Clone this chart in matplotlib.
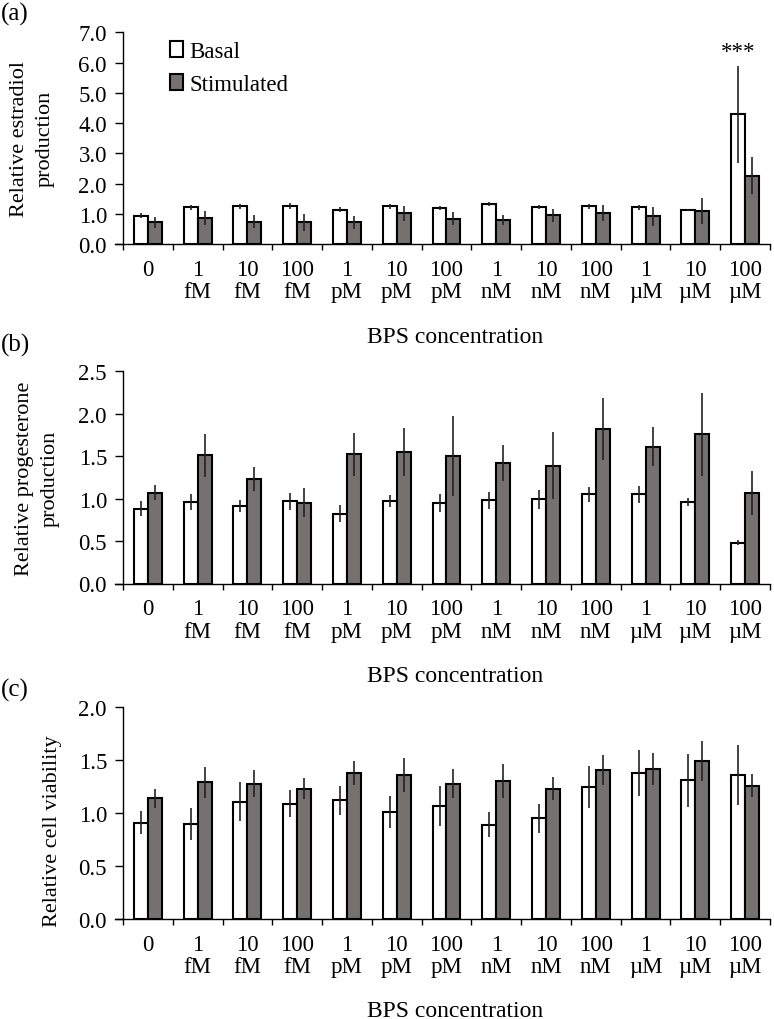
import numpy as np
import matplotlib
matplotlib.use("Agg")
import matplotlib.pyplot as plt
from matplotlib.patches import Patch

plt.rcParams['font.family'] = ['Liberation Serif', 'DejaVu Serif']
plt.rcParams['font.size'] = 16.5

# x categories
doses = ["0", "1", "10", "100", "1", "10", "100", "1", "10", "100", "1", "10", "100"]
units = ["", "fM", "fM", "fM", "pM", "pM", "pM", "nM", "nM", "nM", "\u00b5M", "\u00b5M", "\u00b5M"]

# (a) estradiol
est_basal = [0.95, 1.22, 1.25, 1.27, 1.14, 1.26, 1.20, 1.32, 1.23, 1.25, 1.22, 1.14, 4.30]
est_basal_err = [0.08, 0.08, 0.08, 0.10, 0.08, 0.08, 0.07, 0.07, 0.07, 0.08, 0.08, 0.04, 1.60]
est_stim = [0.72, 0.87, 0.75, 0.72, 0.72, 1.03, 0.85, 0.80, 0.96, 1.04, 0.92, 1.10, 2.27]
est_stim_err = [0.18, 0.22, 0.22, 0.29, 0.21, 0.25, 0.22, 0.17, 0.22, 0.27, 0.30, 0.44, 0.62]

# (b) progesterone
prog_basal = [0.88, 0.96, 0.91, 0.97, 0.82, 0.97, 0.95, 0.98, 0.99, 1.05, 1.05, 0.96, 0.48]
prog_basal_err = [0.09, 0.09, 0.07, 0.10, 0.10, 0.07, 0.11, 0.10, 0.11, 0.09, 0.10, 0.05, 0.03]
prog_stim = [1.07, 1.51, 1.23, 0.95, 1.52, 1.55, 1.50, 1.42, 1.39, 1.82, 1.61, 1.76, 1.07]
prog_stim_err = [0.09, 0.25, 0.14, 0.17, 0.25, 0.28, 0.47, 0.21, 0.39, 0.37, 0.23, 0.49, 0.26]

# (c) cell viability
via_basal = [0.91, 0.90, 1.11, 1.09, 1.12, 1.01, 1.07, 0.89, 0.95, 1.25, 1.38, 1.31, 1.36]
via_basal_err = [0.11, 0.15, 0.18, 0.13, 0.14, 0.15, 0.19, 0.12, 0.14, 0.20, 0.22, 0.25, 0.28]
via_stim = [1.14, 1.29, 1.28, 1.23, 1.38, 1.36, 1.28, 1.30, 1.23, 1.41, 1.42, 1.49, 1.26]
via_stim_err = [0.09, 0.15, 0.13, 0.10, 0.11, 0.16, 0.14, 0.16, 0.11, 0.14, 0.15, 0.19, 0.11]

panels = [
    ("(a)", "Relative estradiol\nproduction", est_basal, est_basal_err, est_stim, est_stim_err, 7.0, 1.0),
    ("(b)", "Relative progesterone\nproduction", prog_basal, prog_basal_err, prog_stim, prog_stim_err, 2.5, 0.5),
    ("(c)", "Relative cell viability", via_basal, via_basal_err, via_stim, via_stim_err, 2.0, 0.5),
]

W, H = 774, 1020
fig = plt.figure(figsize=(W / 100, H / 100), dpi=100)

# pixel boxes: (top, bottom) of each plot area
boxes = [(33.3, 245.3), (372.3, 584.5), (708.3, 920.0)]
letter_y = [14, 345, 690]
xlabel_base = [343, 682, 1017]
ylabel_x = [-0.092, -0.084, -0.081]

STIM = "#767171"
left_px, right_px = 115, 770
n = len(doses)
x = np.arange(n) + 0.5
bw = 0.28

for i, (letter, ylab, b, be, s, se, ymax, ystep) in enumerate(panels):
    top, bot = boxes[i]
    ax = fig.add_axes([left_px / W, 1 - bot / H, (right_px - left_px) / W, (bot - top) / H])
    ax.bar(x - bw / 2, b, bw, color="white", edgecolor="black", linewidth=1.5, zorder=2)
    ax.bar(x + bw / 2, s, bw, color=STIM, edgecolor="black", linewidth=1.5, zorder=2)
    ax.errorbar(x - bw / 2, b, yerr=be, fmt="none", ecolor="#222222", elinewidth=1.2, capsize=0, zorder=3)
    ax.errorbar(x + bw / 2, s, yerr=se, fmt="none", ecolor="#222222", elinewidth=1.2, capsize=0, zorder=3)

    ax.set_xlim(-0.16, n)
    ax.set_ylim(0, ymax)
    ax.spines["top"].set_visible(False)
    ax.spines["right"].set_visible(False)
    ax.spines["left"].set_position(("data", 0))
    for sp in ("left", "bottom"):
        ax.spines[sp].set_linewidth(1.0)

    ax.set_yticks(np.arange(0, ymax + 1e-9, ystep))
    ax.yaxis.set_major_formatter(plt.FormatStrFormatter("%.1f"))
    ax.tick_params(axis="y", direction="out", length=6, width=1.0, pad=5.5)

    ax.set_xticks(np.arange(0, n + 1))
    ax.set_xticklabels([])
    ax.tick_params(axis="x", which="major", direction="out", length=4, width=1.0)
    ax.set_xticks(x, minor=True)
    ax.set_xticklabels([d if u == "" else d + "\n" + u for d, u in zip(doses, units)],
                       minor=True, va="top", linespacing=1.1)
    ax.tick_params(axis="x", which="minor", length=0, pad=10.5)

    ax.set_ylabel(ylab, fontsize=16, linespacing=1.5)
    ax.yaxis.set_label_coords(ylabel_x[i], 0.5 if i < 2 else 0.42)

    fig.text(455 / W, 1 - xlabel_base[i] / H, "BPS concentration", ha="center", va="baseline", fontsize=17)
    fig.text(1 / W, 1 - letter_y[i] / H, letter, ha="left", va="center", fontsize=18)

    if i == 0:
        handles = [Patch(facecolor="white", edgecolor="black", linewidth=1.5),
                   Patch(facecolor=STIM, edgecolor="black", linewidth=1.5)]
        ax.legend(handles, ["Basal", "Stimulated"], loc="upper left",
                  bbox_to_anchor=(0.084, 0.957), frameon=False,
                  handlelength=0.55, handleheight=0.7, handletextpad=0.3,
                  borderpad=0, borderaxespad=0, labelspacing=0.5)
        ax.text(x[-1] - bw / 2, b[-1] + be[-1] + 0.12, "***", ha="center", va="bottom")

fig.savefig("out.png", dpi=100)
